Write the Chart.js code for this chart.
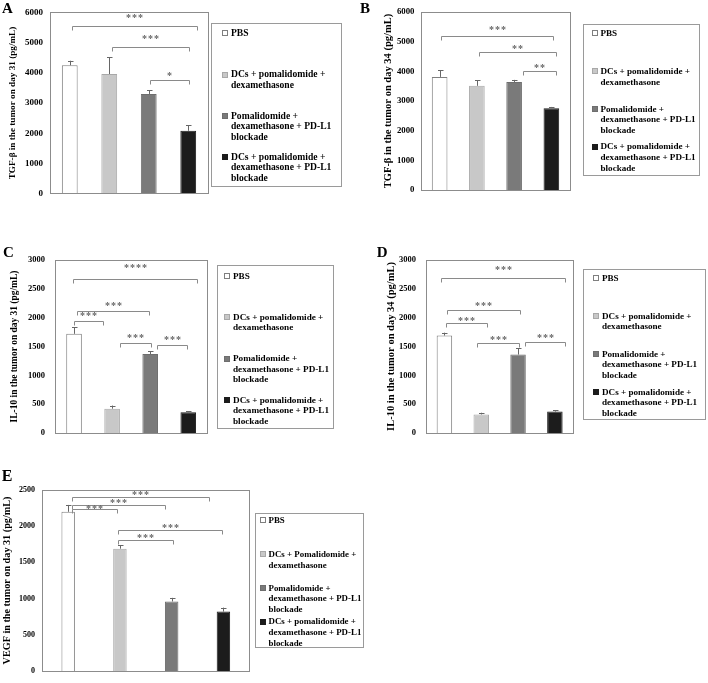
<!DOCTYPE html>
<html>
<head>
<meta charset="utf-8">
<script src="https://cdn.jsdelivr.net/npm/chart.js@4/dist/chart.umd.min.js"></script>
<style>
body { margin: 0; background: #fff; width: 708px; height: 683px; position: relative; overflow: hidden;
       font-family: "Liberation Serif", "Times New Roman", serif; font-weight: bold; color: #000; }
canvas { position: absolute; }
.letter { position: absolute; font-size: 15px; line-height: 15px; }
.legend { position: absolute; border: 1px solid #9a9a9a; box-sizing: border-box; background: #fff;
          -webkit-font-smoothing: antialiased; will-change: transform; }
.entry { position: absolute; left: 0; right: 0; white-space: nowrap; }
.sw { position: absolute; width: 4px; height: 4px; border: 1px solid #777; }
</style>
</head>
<body>
<script>
// groups (same order in every panel)
var groups = ['PBS', 'DCs + pomalidomide + dexamethasone', 'Pomalidomide + dexamethasone + PD-L1 blockade', 'DCs + pomalidomide + dexamethasone + PD-L1 blockade'];
var groupColors = ['#ffffff', '#c8c8c8', '#7a7a7a', '#1c1c1c'];
var groupBorders = ['#7f7f7f', '#a8a8a8', '#6e6e6e', '#1c1c1c'];

var legendLines = [['PBS'], ['DCs + pomalidomide +', 'dexamethasone'], ['Pomalidomide +', 'dexamethasone + PD-L1', 'blockade'], ['DCs + pomalidomide +', 'dexamethasone + PD-L1', 'blockade']];
var legendLinesE = [['PBS'], ['DCs + Pomalidomide +', 'dexamethasone'], ['Pomalidomide +', 'dexamethasone + PD-L1', 'blockade'], ['DCs + pomalidomide +', 'dexamethasone + PD-L1', 'blockade']];

// A: TGF-beta day 31
var tgf31Mean = [4250, 3960, 3300, 2080];
var tgf31Sd = [150, 560, 130, 190];
// [from group, to group, bracket value, label value, stars]
var tgf31Sig = [[0.05, 3.21, 5550, 5880, '***'], [1.07, 3.02, 4850, 5180, '***'], [2.03, 3.02, 3750, 3970, '*']];

// B: TGF-beta day 34
var tgf34Mean = [3810, 3510, 3640, 2760];
var tgf34Sd = [220, 190, 70, 40];
var tgf34Sig = [[0.03, 3.05, 5200, 5460, '***'], [1.07, 3.13, 4640, 4820, '**'], [2.24, 3.13, 4010, 4190, '**']];

// C: IL-10 day 31
var il31Mean = [1720, 420, 1370, 360];
var il31Sd = [110, 55, 45, 20];
var il31Sig = [[-0.02, 3.23, 2680, 2890, '****'], [0.085, 1.975, 2110, 2230, '***'], [0.0, 0.75, 1950, 2070, '***'], [1.21, 2.01, 1565, 1690, '***'], [2.17, 2.97, 1525, 1645, '***']];

// D: IL-10 day 34
var il34Mean = [1690, 320, 1360, 370];
var il34Sd = [50, 30, 110, 20];
var il34Sig = [[-0.1, 3.28, 2695, 2865, '***'], [0.06, 2.05, 2130, 2230, '***'], [0.035, 1.15, 1900, 1975, '***'], [0.88, 2.02, 1555, 1650, '***'], [2.18, 3.28, 1585, 1675, '***']];

// E: VEGF day 31
var vegfMean = [2200, 1690, 960, 820];
var vegfSd = [95, 50, 50, 55];
var vegfSig = [[0.074, 2.73, 2400, 2460, '***'], [0.068, 1.87, 2300, 2350, '***'], [0.08, 0.94, 2240, 2270, '***'], [0.957, 2.97, 1950, 2000, '***'], [0.97, 2.02, 1815, 1865, '***']];

var FONT = '"Liberation Serif", "Times New Roman", serif';

var panels = [
    { letter: 'A', letterPos: [2, 0.7], canvas: [0, 0, 210, 206], pad: { top: 9.3, right: 2, bottom: 8.3, left: 0 }, yWidth: 50,
      max: 6000, step: 1000, tickSize: 9, tickPad: 7, title: 'TGF-β in the tumor on day 31 (pg/mL)', titleSize: 9.2, titlePad: 7.5,
      barPct: 0.4, means: tgf31Mean, sd: tgf31Sd, sig: tgf31Sig, labels: legendLines,
      box: [211, 22.7, 131, 164], first: 5, gap: 41.3, lh: 10.5, lfont: 9.6, swx: 10, starY: 2 },
    { letter: 'B', letterPos: [360, 0.7], canvas: [370, 0, 202, 202], pad: { top: 6, right: 2, bottom: 7.7, left: 0 }, yWidth: 51,
      max: 6000, step: 1000, tickSize: 8.8, tickPad: 6.5, title: 'TGF-β in the tumor on day 34 (pg/mL)', titleSize: 10.5, titlePad: 11.7,
      barPct: 0.42, means: tgf34Mean, sd: tgf34Sd, sig: tgf34Sig, labels: legendLines,
      box: [583.3, 24, 117, 152], first: 4, gap: 37.8, lh: 10.7, lfont: 9.1, swx: 7.5, starY: 2 },
    { letter: 'C', letterPos: [3, 244.7], canvas: [0, 245, 210, 203], pad: { top: 6.7, right: 2.7, bottom: 8, left: 0 }, yWidth: 55,
      max: 3000, step: 500, tickSize: 8.5, tickPad: 10, title: 'IL-10 in the tumor on day 31 (pg/mL)', titleSize: 9.45, titlePad: 9.3,
      barPct: 0.41, means: il31Mean, sd: il31Sd, sig: il31Sig, labels: legendLines,
      box: [217.3, 265, 117, 164.3], first: 5.5, gap: 41.4, lh: 10.6, lfont: 9.2, swx: 6, starY: 2 },
    { letter: 'D', letterPos: [376.7, 245], canvas: [370, 245, 206, 203], pad: { top: 5.7, right: 2.7, bottom: 8, left: 0 }, yWidth: 56,
      max: 3000, step: 500, tickSize: 8.5, tickPad: 10, title: 'IL-10 in the tumor on day 34 (pg/mL)', titleSize: 10.5, titlePad: 15.4,
      barPct: 0.42, means: il34Mean, sd: il34Sd, sig: il34Sig, labels: legendLines,
      box: [583.3, 269.3, 122.7, 151], first: 3.8, gap: 38, lh: 10.5, lfont: 9.1, swx: 9, starY: 2 },
    { letter: 'E', letterPos: [1.7, 468.4], canvas: [0, 478, 252, 205], pad: { top: 6.3, right: 2.7, bottom: 5.3, left: 0 }, yWidth: 42.3,
      max: 2500, step: 500, tickSize: 8, tickPad: 7.3, title: 'VEGF in the tumor on day 31 (pg/mL)', titleSize: 10.2, titlePad: 0.9,
      barPct: 0.26, means: vegfMean, sd: vegfSd, sig: vegfSig, labels: legendLinesE,
      box: [255, 513.3, 109.3, 135], first: 2.1, gap: 33.7, lh: 10.8, lfont: 8.9, swx: 3.5, starY: 2 }
];

// error bars, significance brackets and the plot frame
const panelDecor = {
    id: 'panelDecor',
    afterDatasetsDraw(chart, args, opts) {
        const ctx = chart.ctx, a = chart.chartArea, x = chart.scales.x, y = chart.scales.y;
        const meta = chart.getDatasetMeta(0);
        ctx.save();
        ctx.lineWidth = 1;
        ctx.strokeStyle = '#666';
        meta.data.forEach((bar, i) => {
            const top = y.getPixelForValue(opts.means[i] + opts.sd[i]);
            const cx = Math.round(bar.x) + 0.5;
            ctx.beginPath();
            ctx.moveTo(cx, bar.y);
            ctx.lineTo(cx, top);
            ctx.moveTo(cx - 2.5, Math.round(top) + 0.5);
            ctx.lineTo(cx + 3, Math.round(top) + 0.5);
            ctx.stroke();
        });
        ctx.strokeStyle = '#8a8a8a';
        ctx.fillStyle = '#666';
        ctx.font = 'bold 10px ' + FONT;
        ctx.letterSpacing = '1px';
        ctx.textAlign = 'center';
        ctx.textBaseline = 'middle';
        opts.sig.forEach(s => {
            const x1 = Math.round(x.getPixelForValue(s[0])) + 0.5;
            const x2 = Math.round(x.getPixelForValue(s[1])) + 0.5;
            const yy = Math.round(y.getPixelForValue(s[2])) + 0.5;
            ctx.beginPath();
            ctx.moveTo(x1, yy + 4);
            ctx.lineTo(x1, yy);
            ctx.lineTo(x2, yy);
            ctx.lineTo(x2, yy + 4);
            ctx.stroke();
            ctx.fillText(s[4], Math.round((x1 + x2) / 2), Math.round(y.getPixelForValue(s[3]) + opts.starY));
        });
        ctx.letterSpacing = '0px';
        ctx.strokeStyle = '#8c8c8c';
        ctx.strokeRect(Math.round(a.left) + 0.5, Math.round(a.top) + 0.5, Math.round(a.right - a.left), Math.round(a.bottom - a.top));
        ctx.restore();
    }
};

function makeLegend(p) {
    var box = document.createElement('div');
    box.className = 'legend';
    box.style.left = p.box[0] + 'px';
    box.style.top = p.box[1] + 'px';
    box.style.width = p.box[2] + 'px';
    box.style.height = p.box[3] + 'px';
    box.style.fontSize = p.lfont + 'px';
    p.labels.forEach(function (lines, i) {
        var e = document.createElement('div');
        e.className = 'entry';
        e.style.top = (p.first + i * p.gap - 1) + 'px';
        e.style.lineHeight = p.lh + 'px';
        e.style.paddingLeft = (p.swx + 9) + 'px';
        e.innerHTML = lines.join('<br>');
        var sw = document.createElement('div');
        sw.className = 'sw';
        sw.style.left = p.swx + 'px';
        sw.style.top = (p.lh / 2 - 3) + 'px';
        sw.style.background = groupColors[i];
        sw.style.borderColor = groupBorders[i];
        e.appendChild(sw);
        box.appendChild(e);
    });
    document.body.appendChild(box);
}

panels.forEach(function (p) {
    var canvas = document.createElement('canvas');
    canvas.width = p.canvas[2];
    canvas.height = p.canvas[3];
    canvas.style.left = p.canvas[0] + 'px';
    canvas.style.top = p.canvas[1] + 'px';
    document.body.appendChild(canvas);

    var letter = document.createElement('div');
    letter.className = 'letter';
    letter.textContent = p.letter;
    letter.style.left = p.letterPos[0] + 'px';
    letter.style.top = p.letterPos[1] + 'px';
    if (p.letter === 'E') letter.style.fontSize = '16px';
    document.body.appendChild(letter);

    makeLegend(p);

    new Chart(canvas, {
        type: 'bar',
        data: {
            labels: groups,
            datasets: [{
                data: p.means,
                backgroundColor: groupColors,
                borderColor: groupBorders,
                borderWidth: 1,
                barPercentage: p.barPct,
                categoryPercentage: 1
            }]
        },
        options: {
            responsive: false,
            animation: false,
            layout: { padding: p.pad },
            plugins: {
                legend: { display: false },
                tooltip: { enabled: false },
                panelDecor: { means: p.means, sd: p.sd, sig: p.sig, starY: p.starY }
            },
            scales: {
                x: { display: false },
                y: {
                    min: 0, max: p.max,
                    ticks: { stepSize: p.step, padding: p.tickPad, color: '#000', callback: v => String(v),
                             font: { family: FONT, weight: 'bold', size: p.tickSize } },
                    grid: { display: false, drawTicks: false },
                    border: { display: false },
                    title: { display: true, text: p.title, color: '#000', padding: { top: p.titlePad, bottom: 0 },
                             font: { family: FONT, weight: 'bold', size: p.titleSize } },
                    afterFit: function (s) { s.width = p.yWidth; }
                }
            }
        },
        plugins: [panelDecor]
    });
});
</script>
</body>
</html>
